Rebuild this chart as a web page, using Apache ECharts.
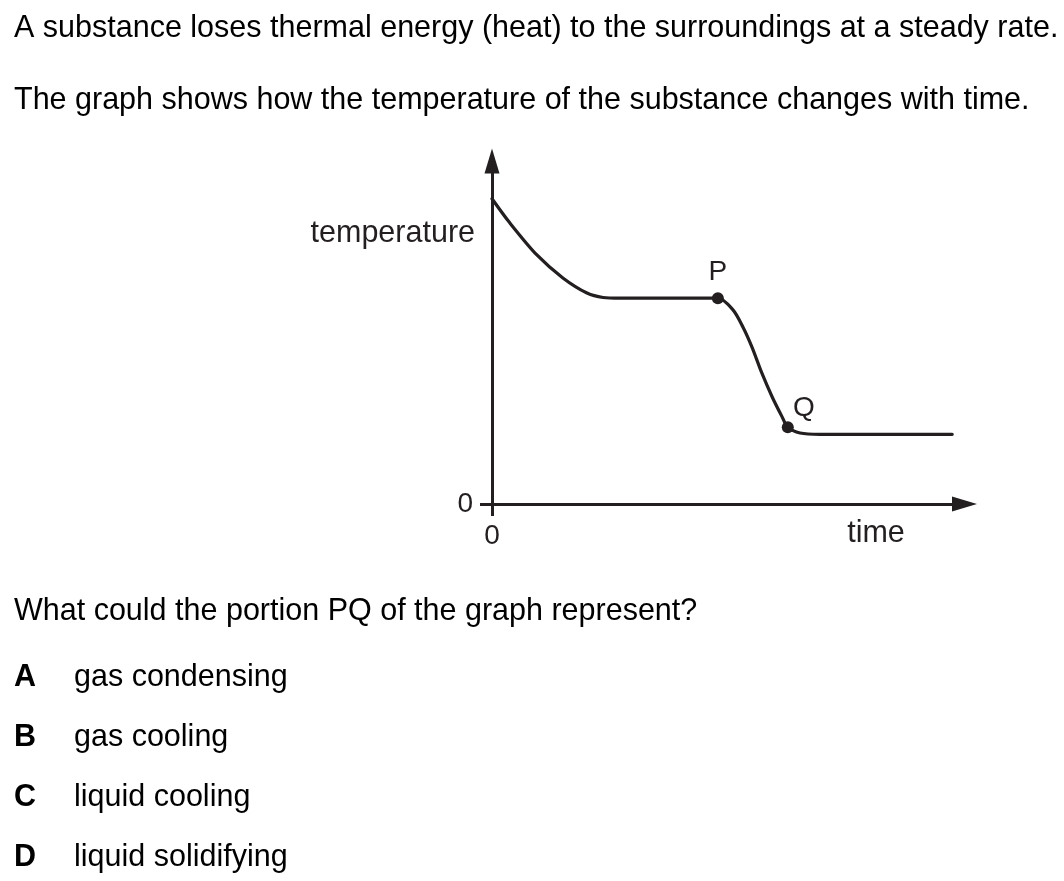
<!DOCTYPE html>
<html>
<head>
<meta charset="utf-8">
<script src="https://cdn.jsdelivr.net/npm/echarts@6/dist/echarts.min.js"></script>
<style>
html,body{margin:0;padding:0;background:#fff;}
#chart{width:1064px;height:881px;}
</style>
</head>
<body>
<div id="chart"></div>
<script>
// ---- data ----
const timeValues = [0, 3.8, 9.5, 15.0, 20.1, 23.5, 27.1, 40, 47.8, 51.0, 53.1, 55.0, 57.1, 59.3, 61.4, 62.6, 65.2, 69.4, 97.4];
const temperatureValues = [89, 81.9, 72.6, 65.9, 61.5, 60.2, 60, 60, 60, 56.6, 51.6, 45.8, 38.2, 31.2, 25.4, 22.4, 20.7, 20.3, 20.3];
const pointNames = ['P', 'Q'];
const pointTimes = [47.8, 62.6];
const pointTemps = [60, 22.4];
const xTickValues = [0];
const yTickValues = [0];
const xAxisTitle = 'time';
const yAxisTitle = 'temperature';
const introLines = [
  'A substance loses thermal energy (heat) to the surroundings at a steady rate.',
  'The graph shows how the temperature of the substance changes with time.'
];
const questionText = 'What could the portion PQ of the graph represent?';
const optionLetters = ['A', 'B', 'C', 'D'];
const optionTexts = ['gas condensing', 'gas cooling', 'liquid cooling', 'liquid solidifying'];

// ---- styling / layout ----
const INK = '#231f20';
const FONT = "'Liberation Sans', Arial, sans-serif";
const FS = 30.5;

const chart = echarts.init(document.getElementById('chart'), null, {renderer: 'canvas'});

const curveData = timeValues.map((t, i) => [t, temperatureValues[i]]);
const labelPlacement = [
  {position: 'top', distance: 6},
  {position: [22, -13], align: 'center', verticalAlign: 'middle'}
];
const pointData = pointNames.map((n, i) => ({
  name: n,
  value: [pointTimes[i], pointTemps[i]],
  label: Object.assign({show: true, formatter: n}, labelPlacement[i])
}));

const graphics = [];
introLines.forEach((t, i) => {
  graphics.push({type: 'text', x: 14, y: [28.5, 100.5][i],
    style: {text: t, font: `${FS}px ${FONT}`, fill: '#000', verticalAlign: 'middle'}});
});
graphics.push({type: 'text', x: 14, y: 612,
  style: {text: questionText, font: `${FS}px ${FONT}`, fill: '#000', verticalAlign: 'middle'}});
optionLetters.forEach((l, i) => {
  const y = 678 + i * 60;
  graphics.push({type: 'text', x: 14, y: y,
    style: {text: l, font: `bold ${FS}px ${FONT}`, fill: '#000', verticalAlign: 'middle'}});
  graphics.push({type: 'text', x: 74, y: y,
    style: {text: optionTexts[i], font: `${FS}px ${FONT}`, fill: '#000', verticalAlign: 'middle'}});
});
graphics.push({type: 'text', x: 475, y: 234,
  style: {text: yAxisTitle, font: `${FS}px ${FONT}`, fill: INK, align: 'right', verticalAlign: 'middle'}});
graphics.push({type: 'text', x: 876, y: 534,
  style: {text: xAxisTitle, font: `${FS}px ${FONT}`, fill: INK, align: 'center', verticalAlign: 'middle'}});

const option = {
  animation: false,
  backgroundColor: '#fff',
  grid: {left: 492, top: 161, width: 472.5, height: 343, containLabel: false},
  xAxis: {
    type: 'value', min: 0, max: 100,
    axisLine: {show: true, onZero: false, symbol: ['none', 'triangle'], symbolSize: [15, 25],
      lineStyle: {color: INK, width: 3}},
    axisTick: {show: true, customValues: xTickValues, length: 12, lineStyle: {color: INK, width: 3}},
    axisLabel: {show: true, customValues: xTickValues, margin: 18, fontSize: 28, fontFamily: FONT, color: INK},
    splitLine: {show: false}
  },
  yAxis: {
    type: 'value', min: 0, max: 100,
    axisLine: {show: true, onZero: false, symbol: ['none', 'triangle'], symbolSize: [15, 25],
      lineStyle: {color: INK, width: 3}},
    axisTick: {show: true, customValues: yTickValues, length: 12, lineStyle: {color: INK, width: 3}},
    axisLabel: {show: true, customValues: yTickValues, margin: 19, fontSize: 28, fontFamily: FONT, color: INK},
    splitLine: {show: false}
  },
  series: [
    {
      type: 'line', data: curveData, smooth: 0.3, showSymbol: false,
      lineStyle: {color: INK, width: 3.2, cap: 'round', join: 'round'}, z: 2
    },
    {
      type: 'scatter', data: pointData, symbolSize: 12,
      itemStyle: {color: INK, opacity: 1},
      label: {color: INK, opacity: 1, fontSize: 28, fontFamily: FONT}, z: 3
    }
  ],
  graphic: graphics
};
chart.setOption(option);
</script>
</body>
</html>
